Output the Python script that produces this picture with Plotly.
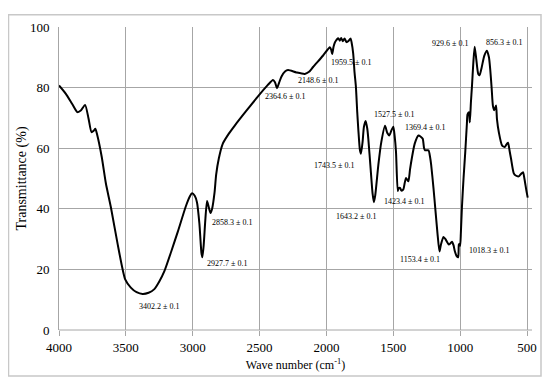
import plotly.graph_objects as go

wavenumber = [4000, 3950, 3900, 3862, 3835, 3805, 3780, 3757, 3740, 3728, 3715, 3680, 3650, 3612,
              3560, 3505, 3463, 3420, 3375, 3330, 3287, 3250, 3212, 3160, 3112, 3050, 3020, 3005,
              2985, 2968, 2950, 2935, 2928, 2918, 2907, 2893, 2880, 2867, 2855, 2837, 2825, 2805,
              2775, 2730, 2687, 2600, 2512, 2440, 2400, 2385, 2370, 2355, 2337, 2310, 2287, 2225,
              2162, 2130, 2100, 2025, 1975, 1965, 1957, 1947, 1937, 1912, 1900, 1890, 1878, 1865,
              1850, 1835, 1820, 1812, 1800, 1790, 1780, 1770, 1762, 1750, 1742, 1730, 1720, 1707,
              1695, 1687, 1670, 1655, 1645, 1635, 1612, 1590, 1562, 1545, 1530, 1515, 1500, 1490,
              1480, 1467, 1460, 1450, 1440, 1425, 1415, 1405, 1395, 1387, 1375, 1362, 1340, 1312,
              1295, 1280, 1270, 1262, 1237, 1225, 1217, 1200, 1187, 1170, 1155, 1145, 1125, 1110,
              1100, 1085, 1075, 1062, 1050, 1040, 1025, 1015, 1010, 1005, 1000, 995, 987, 975,
              962, 950, 945, 935, 928, 920, 912, 902, 892, 880, 865, 855, 840, 820, 800, 785, 775,
              765, 755, 745, 732, 725, 710, 687, 667, 650, 642, 630, 620, 600, 585, 562, 545, 530,
              520, 505, 495]
transmittance = [80.7, 78.0, 74.5, 71.9, 72.5, 74.3, 70.0, 65.3, 65.8, 66.4, 64.5, 57.0, 48.5, 40.5,
                 28.0, 16.7, 14.0, 12.5, 11.9, 12.3, 13.5, 16.0, 19.4, 26.0, 32.4, 41.0, 44.2, 45.1,
                 44.3, 42.1, 35.0, 25.5, 24.0, 28.0, 35.6, 42.6, 40.5, 38.6, 40.0, 45.3, 51.2, 56.6,
                 61.5, 64.8, 67.4, 72.3, 77.1, 80.8, 82.5, 81.8, 79.8, 81.5, 83.6, 85.3, 85.8, 85.0,
                 84.5, 85.2, 86.8, 90.6, 93.3, 92.5, 91.1, 93.5, 94.9, 96.3, 95.5, 96.4, 95.3, 96.2,
                 95.0, 95.4, 96.2, 94.9, 91.2, 85.0, 80.4, 72.0, 66.3, 59.5, 58.2, 62.0, 67.0, 69.0,
                 66.5, 63.1, 53.4, 45.0, 42.2, 44.5, 54.5, 62.0, 67.4, 65.0, 64.2, 65.8, 67.1, 64.0,
                 58.8, 45.9, 46.8, 46.9, 46.0, 46.4, 48.5, 50.2, 49.5, 49.1, 53.0, 56.6, 61.5, 64.2,
                 63.8, 63.1, 60.0, 59.3, 59.3, 57.0, 54.5, 47.0, 40.5, 32.0, 25.9, 28.0, 30.7, 30.0,
                 29.2, 28.2, 28.5, 29.1, 28.0, 26.0, 24.3, 24.0, 28.2, 28.5, 27.8, 32.0, 40.5, 50.0,
                 58.8, 68.0, 71.2, 71.9, 68.5, 75.0, 80.4, 88.0, 93.5, 89.5, 84.5, 84.1, 86.5, 90.5,
                 92.2, 90.0, 85.8, 80.0, 73.9, 72.5, 74.1, 69.6, 65.0, 60.9, 60.4, 61.5, 61.8, 59.0,
                 56.6, 51.8, 51.0, 50.7, 51.5, 52.1, 50.0, 46.0, 43.7]

label_text = ["3402.2 ± 0.1", "2927.7 ± 0.1", "2858.3 ± 0.1", "2364.6 ± 0.1", "2148.6 ± 0.1",
              "1959.5 ± 0.1", "1743.5 ± 0.1", "1643.2 ± 0.1", "1527.5 ± 0.1", "1423.4 ± 0.1",
              "1369.4 ± 0.1", "1153.4 ± 0.1", "1018.3 ± 0.1", "929.6 ± 0.1", "856.3 ± 0.1"]
label_x = [3250, 2742, 2707, 2312, 2062, 1820, 1945, 1780, 1495, 1420, 1262, 1300, 782, 1075, 675]
label_y = [7.9, 22.1, 35.6, 77.1, 82.5, 88.2, 54.3, 37.5, 71.2, 42.4, 66.7, 23.4, 26.1, 94.7, 94.9]

x_ticks = [4000, 3500, 3000, 2500, 2000, 1500, 1000, 500]
y_ticks = [0, 20, 40, 60, 80, 100]

FONT = "Liberation Serif"
GRID = "#a6a6a6"

fig = go.Figure()
fig.add_trace(go.Scatter(x=wavenumber, y=transmittance, mode="lines",
                         line=dict(color="black", width=2, shape="spline", smoothing=0.6),
                         showlegend=False, hoverinfo="skip"))

for t, x, y in zip(label_text, label_x, label_y):
    fig.add_annotation(x=x, y=y, text=t, showarrow=False,
                       font=dict(family=FONT, size=8, color="black"))

# outer frame (figure is 542x374, placed with the page's 8px body margin)
fig.add_shape(type="rect", xref="paper", yref="paper",
              x0=-50.5 / 473, x1=(541 - 8 - 51) / 473,
              y0=-(377 - 8 - 322) / 309, y1=(322 - 0.5) / 309,
              line=dict(color="#c8c8c8", width=1.5), fillcolor="rgba(0,0,0,0)", layer="above")

fig.update_layout(
    width=542, height=374,
    margin=dict(l=51, r=18, t=13, b=52),
    paper_bgcolor="white", plot_bgcolor="white",
    font=dict(family=FONT, color="black"),
    xaxis=dict(range=[4000, 463], tickvals=x_ticks, ticktext=[str(v) for v in x_ticks],
               showgrid=True, gridcolor=GRID, gridwidth=1, zeroline=False,
               showline=False, ticks="outside", ticklen=5, tickcolor=GRID,
               tickfont=dict(family=FONT, size=13, color="black"),
               title=dict(text="Wave number (cm<sup>-1</sup>)", font=dict(family=FONT, size=12),
                          standoff=7)),
    yaxis=dict(range=[0, 100], tickvals=y_ticks, showgrid=True, gridcolor=GRID, gridwidth=1,
               zeroline=False, showline=True, linecolor=GRID, linewidth=1, mirror=False,
               ticks="", ticklabelstandoff=6, tickfont=dict(family=FONT, size=13, color="black"),
               title=dict(text="Transmittance (%)", font=dict(family=FONT, size=14), standoff=0)),
)
fig.add_shape(type="line", xref="paper", yref="paper", x0=0, x1=1, y0=0, y1=0,
              line=dict(color=GRID, width=1))

fig.write_html("out.html")
